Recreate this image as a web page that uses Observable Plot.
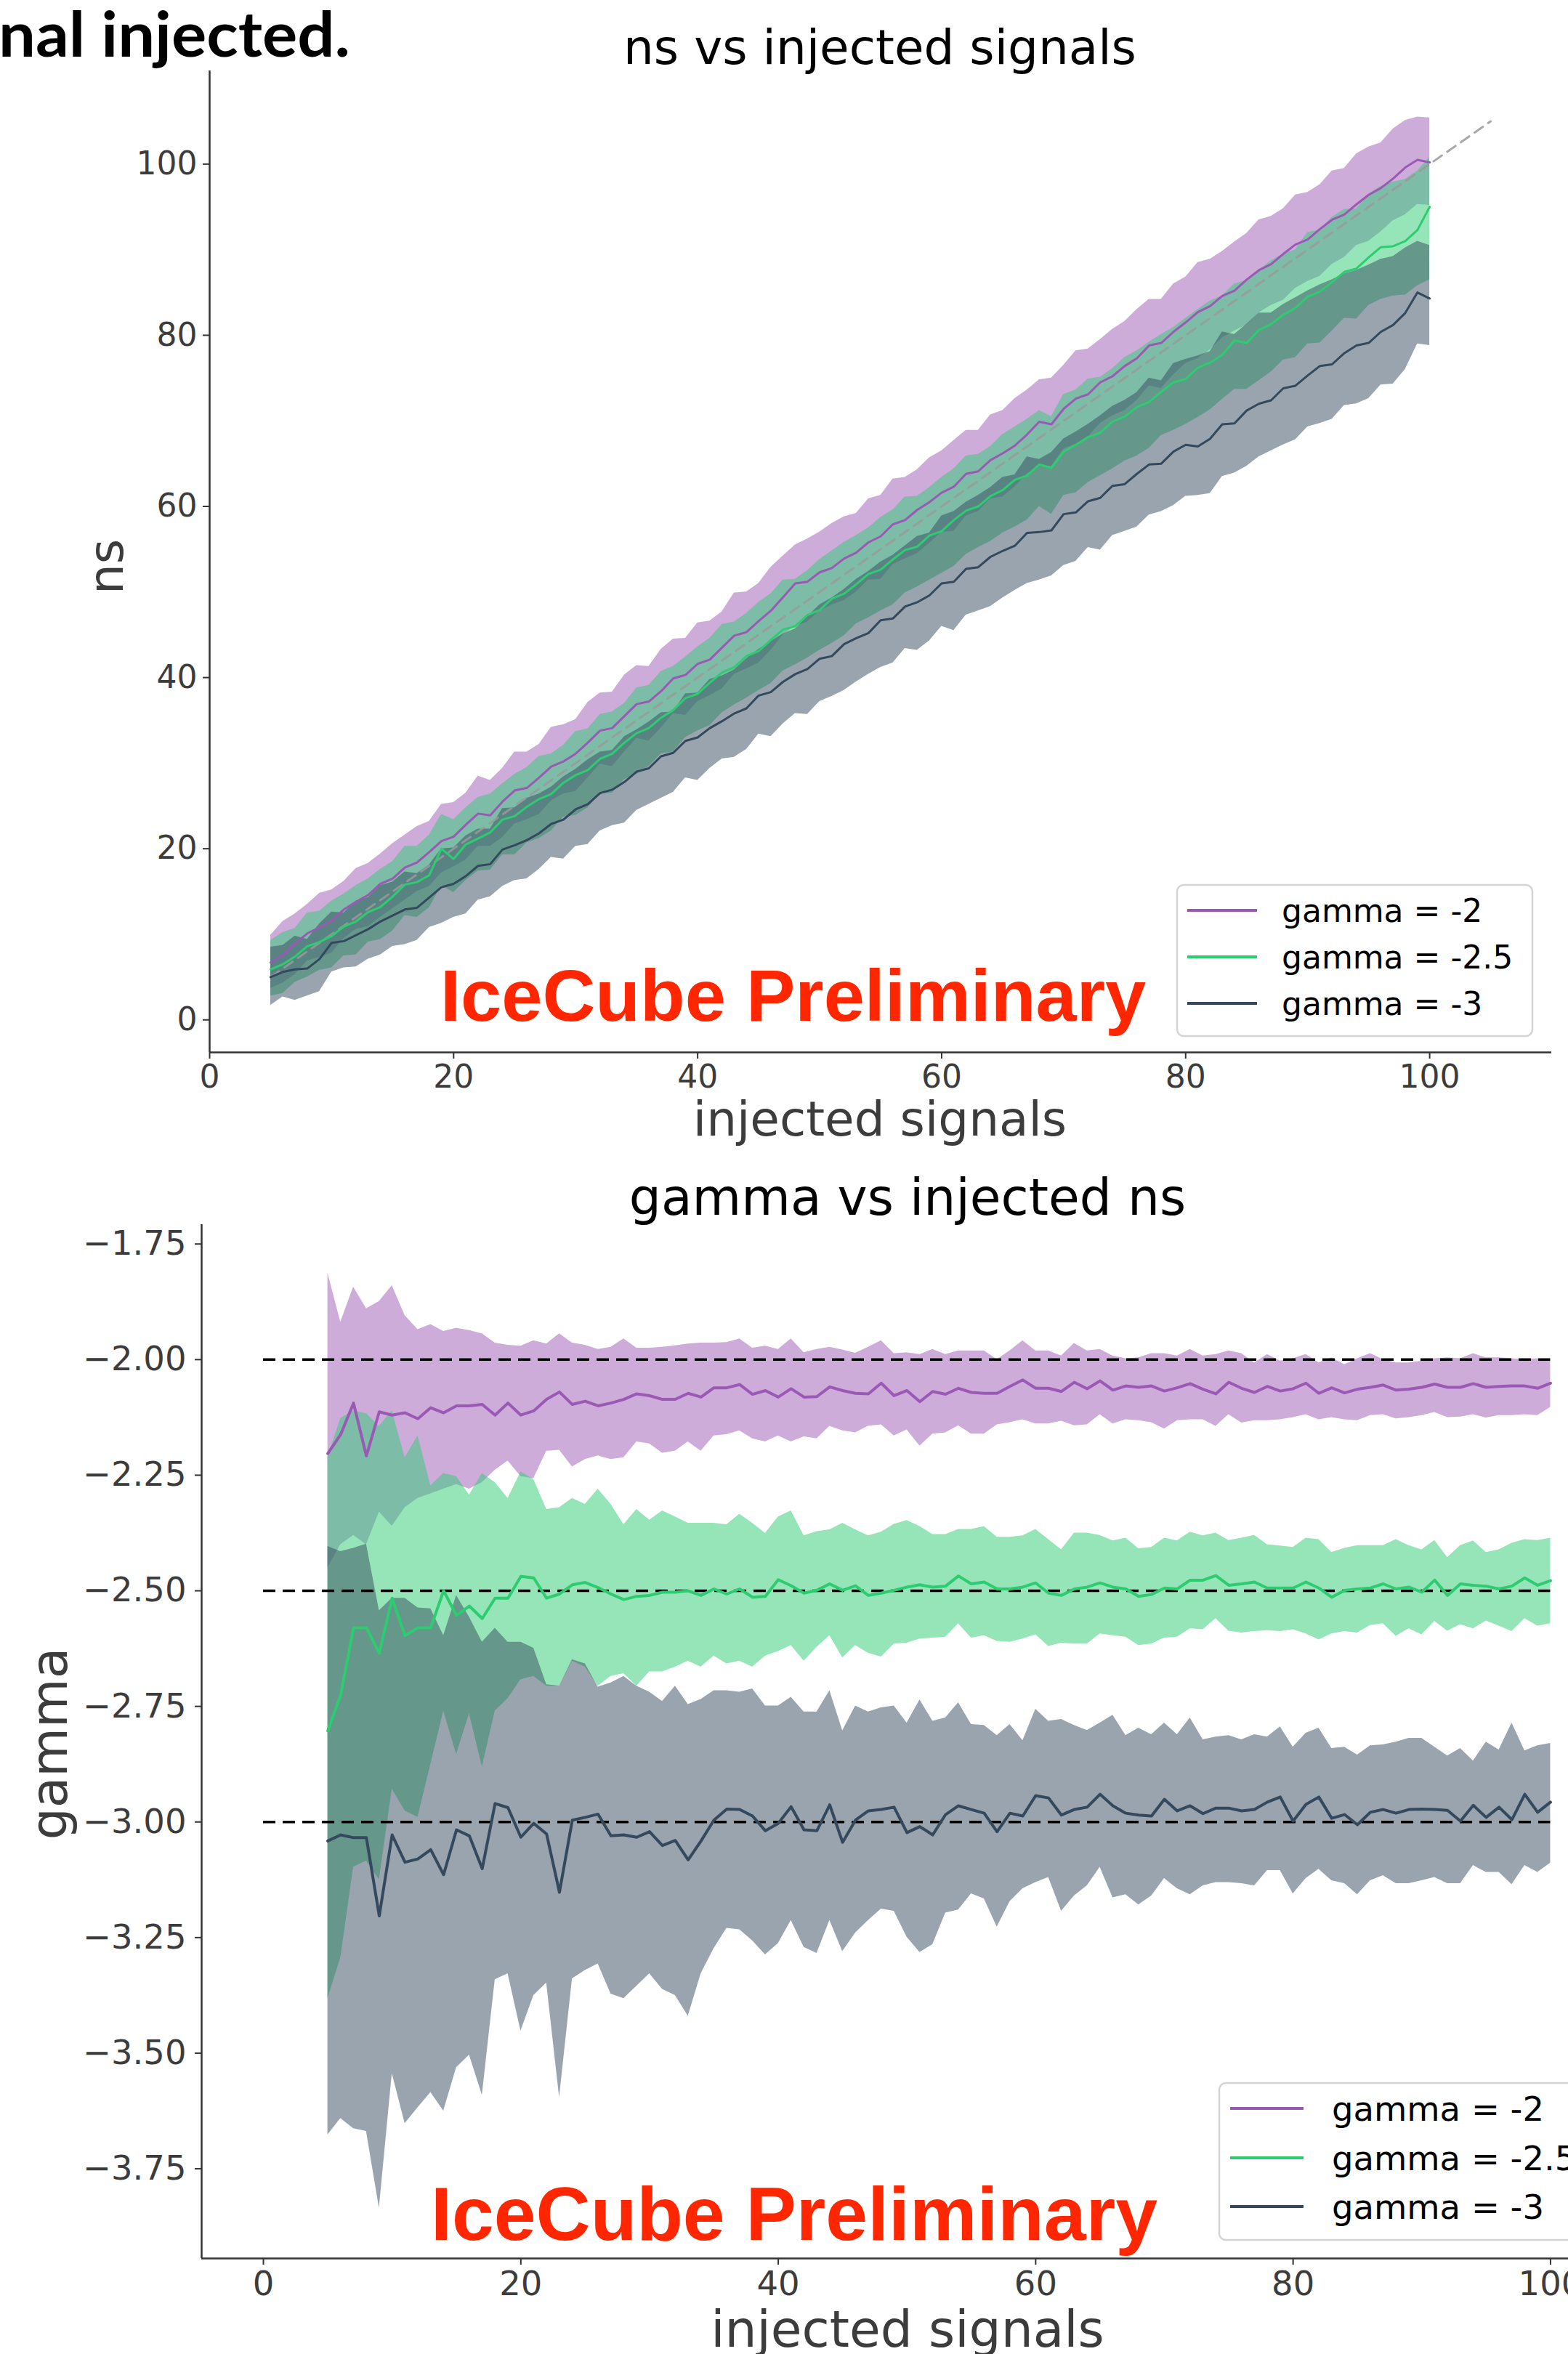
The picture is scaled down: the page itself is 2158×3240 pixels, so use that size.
<!DOCTYPE html>
<html><head><meta charset="utf-8">
<script src="https://cdn.jsdelivr.net/npm/d3@7"></script>
<script src="https://cdn.jsdelivr.net/npm/@observablehq/plot@0.6"></script>
<style>
html,body{margin:0;padding:0;background:#fff;overflow:hidden;}
#page{position:relative;width:2158px;height:3240px;overflow:hidden;background:#fff;}
#page svg{position:absolute;left:0;max-width:none !important;}
</style></head><body><div id="page"></div>
<script>
// ---------- shared categories ----------
const injected = [5,6,7,8,9,10,11,12,13,14,15,16,17,18,19,20,21,22,23,24,25,26,27,28,29,30,31,32,33,34,35,36,37,38,39,40,41,42,43,44,45,46,47,48,49,50,51,52,53,54,55,56,57,58,59,60,61,62,63,64,65,66,67,68,69,70,71,72,73,74,75,76,77,78,79,80,81,82,83,84,85,86,87,88,89,90,91,92,93,94,95,96,97,98,99,100];
const seriesLabels = ["gamma = -2", "gamma = -2.5", "gamma = -3"];
const seriesColors = ["#9b59b6", "#2ecc71", "#34495e"];
const xTicks = [0, 20, 40, 60, 80, 100];
const nsTicks = [0, 20, 40, 60, 80, 100];
const gammaTicks = [-3.75, -3.5, -3.25, -3, -2.75, -2.5, -2.25, -2, -1.75];
const diagSpan = [5, 105];
const gammaTrue = [-2, -2.5, -3];
const trueSpan = [0, 100];

// ---------- top chart: fitted ns (mean, spread below, spread above) ----------
const nsMean_g2 = [6.7,7.6,8.9,10.1,10.8,11.6,12.9,13.8,14.6,15.9,
 16.5,17.8,18.4,19.6,20.9,21.4,22.8,24.1,23.9,25.5,
 26.8,27.1,28.3,29.6,30.2,31.1,32.4,33.8,34.1,35.5,
 36.9,37.2,38.4,39.9,40.3,41.6,42.1,43.5,44.9,45.3,
 46.6,47.8,49.4,51.0,51.2,52.3,52.8,53.9,54.6,55.8,
 56.5,57.9,58.4,59.6,60.5,61.6,62.3,63.8,64.1,65.4,
 66.2,67.1,68.4,69.9,69.6,71.4,72.6,73.1,74.5,75.2,
 76.4,77.3,78.8,79.1,80.4,81.5,82.7,83.4,84.6,85.2,
 86.5,87.6,88.3,89.5,90.6,91.2,92.4,93.5,94.1,95.3,
 96.4,97.2,98.3,99.6,100.5,100.2];
const nsErrLo_g2 = [3.0,3.3,3.6,3.2,3.5,3.8,3.4,3.2,3.7,3.9,
 3.5,3.8,3.4,4.0,3.7,3.5,4.1,3.8,3.6,4.2,
 3.9,3.7,4.3,4.0,3.8,4.4,4.1,3.9,4.5,4.2,
 4.0,4.6,4.3,4.1,4.7,4.4,4.2,4.8,4.5,4.3,
 4.9,4.6,4.4,5.0,4.7,4.5,4.3,4.9,4.6,4.4,
 5.0,4.7,4.5,5.1,4.8,4.6,5.2,4.9,4.7,4.5,
 5.1,4.8,4.6,5.2,4.9,4.7,5.3,5.0,4.8,4.6,
 5.2,4.9,4.7,5.3,5.0,4.8,5.4,5.1,4.9,4.7,
 5.3,5.0,4.8,5.4,5.1,4.9,5.5,5.2,5.0,4.8,
 5.4,5.1,4.9,5.5,5.2,5.0];
const nsErrHi_g2 = [3.2,3.9,3.5,3.4,4.0,3.6,3.3,3.9,3.7,3.5,
 4.1,3.8,4.2,3.6,4.3,4.0,3.7,4.4,4.1,3.9,
 4.5,4.2,3.9,4.6,4.3,4.0,4.7,4.4,4.2,4.8,
 4.5,4.1,4.9,4.6,4.3,4.8,4.5,4.2,5.0,4.7,
 4.4,5.1,4.8,4.5,5.0,4.7,5.2,4.9,4.6,5.1,
 4.8,5.3,5.0,4.7,5.2,4.9,5.4,5.1,4.8,5.3,
 5.0,5.5,5.2,4.9,5.4,5.1,5.6,5.3,5.0,5.5,
 5.2,5.7,5.4,5.1,5.6,5.3,5.8,5.5,5.2,5.7,
 5.4,5.9,5.6,5.3,5.8,5.5,5.2,5.7,5.4,5.9,
 5.6,5.3,5.8,5.5,5.0,5.2];

const nsMean_g25 = [5.9,6.5,7.4,8.6,9.1,9.8,10.9,11.5,12.6,13.2,
 14.4,15.8,16.1,16.9,20.0,18.8,20.5,21.2,21.9,23.4,
 23.8,24.9,25.8,26.4,27.7,28.6,29.2,30.5,31.1,32.4,
 33.5,34.1,35.3,36.2,37.6,38.1,39.4,40.6,41.2,42.5,
 43.1,44.4,45.6,46.0,47.3,47.9,49.2,49.8,50.9,52.1,
 52.6,53.8,54.9,55.3,56.6,57.1,58.4,59.5,60.0,61.2,
 61.9,63.1,63.6,64.9,64.5,66.4,67.2,68.1,68.6,69.9,
 70.5,71.6,72.2,73.4,74.5,74.9,76.2,76.8,77.7,79.4,
 79.1,80.6,81.3,82.4,83.2,84.5,85.1,86.2,87.4,87.8,
 89.1,90.3,90.4,91.0,92.3,95.0];
const nsErrLo_g25 = [3.1,3.4,3.0,3.6,3.3,3.7,3.4,3.9,3.5,3.8,
 4.0,3.6,4.1,3.8,4.3,3.9,4.2,3.8,4.4,4.1,
 4.5,4.2,4.6,4.3,4.0,4.7,4.4,4.1,4.6,4.3,
 4.8,4.5,4.2,4.9,4.6,4.3,5.0,4.7,4.4,4.9,
 4.6,5.1,4.8,4.5,5.0,4.7,5.2,4.9,4.6,5.1,
 4.8,5.3,5.0,4.7,5.2,4.9,5.4,5.1,4.8,5.3,
 5.0,5.5,5.2,4.9,5.4,5.1,5.6,5.3,5.0,5.5,
 5.2,5.7,5.4,5.1,5.6,5.3,5.8,5.5,5.2,5.7,
 5.4,5.9,5.6,5.3,5.8,5.5,6.0,5.7,5.4,5.9,
 5.6,6.1,5.8,6.3,6.5,8.5];
const nsErrHi_g25 = [3.4,3.7,3.3,3.9,3.6,4.1,3.8,4.2,3.9,4.4,
 4.1,4.5,4.2,4.7,4.0,4.6,4.3,4.8,4.5,4.2,
 4.9,4.6,5.0,4.7,4.4,5.1,4.8,5.2,4.9,4.6,
 5.3,5.0,5.4,5.1,4.8,5.5,5.2,5.6,5.3,5.0,
 5.7,5.4,5.8,5.5,5.2,5.9,5.6,6.0,5.7,5.4,
 6.1,5.8,6.2,5.9,5.6,6.3,6.0,6.4,6.1,5.8,
 6.5,6.2,6.6,6.3,6.0,6.7,6.4,6.8,6.5,6.2,
 6.9,6.6,7.0,6.7,6.4,7.1,6.8,7.2,6.9,6.6,
 7.3,7.0,7.4,7.1,6.8,7.5,7.2,7.6,7.3,7.0,
 7.4,7.1,7.5,7.2,6.9,5.8];

const nsMean_g3 = [5.0,5.6,5.9,6.0,7.1,9.0,9.2,9.9,10.6,11.5,
 12.2,12.9,13.1,14.3,15.5,15.9,16.8,18.0,18.2,19.9,
 20.4,21.0,21.8,22.9,23.4,24.6,25.2,26.5,26.9,27.8,
 29.0,29.4,30.8,31.2,32.6,33.0,34.1,34.9,35.8,36.4,
 37.9,38.3,39.5,40.4,41.0,42.2,42.5,43.9,44.6,45.2,
 46.7,46.9,48.3,48.8,49.6,51.0,51.2,52.7,52.9,54.1,
 54.8,55.4,56.9,57.0,57.2,59.1,59.3,60.6,61.0,62.4,
 62.6,63.8,64.9,65.0,66.4,67.2,67.0,67.9,69.6,69.7,
 71.2,72.0,72.4,73.8,74.1,75.3,76.4,76.6,77.9,78.8,
 79.1,80.4,81.2,82.6,85.0,84.3];
const nsErrLo_g3 = [3.3,2.9,3.6,3.2,3.8,3.4,3.1,3.7,3.5,3.9,
 3.6,4.1,3.8,3.5,4.2,3.9,4.4,4.0,3.8,4.3,
 4.1,4.5,4.2,3.9,4.6,4.3,4.7,4.4,4.2,4.8,
 4.5,4.2,4.9,4.6,4.3,5.0,4.7,4.4,5.1,4.8,
 4.5,5.2,4.9,4.6,5.3,5.0,4.7,5.4,5.1,4.8,
 5.5,5.2,4.9,5.6,5.3,5.0,5.7,5.4,5.1,5.8,
 5.5,5.2,5.9,5.6,5.3,6.0,5.7,5.4,6.1,5.8,
 5.5,6.2,5.9,5.6,6.3,6.0,5.7,6.4,6.1,5.8,
 6.5,6.2,5.9,6.6,6.3,6.0,6.7,6.4,6.1,6.8,
 6.5,6.2,6.9,6.6,6.0,5.5];
const nsErrHi_g3 = [3.5,3.1,3.9,3.4,4.1,3.6,3.3,4.0,3.7,4.2,
 3.9,4.4,4.0,3.8,4.5,4.2,4.7,4.3,4.1,4.8,
 4.4,4.9,4.6,4.3,5.0,4.7,5.2,4.8,4.6,5.3,
 4.9,5.4,5.1,4.8,5.5,5.2,5.7,5.3,5.1,5.8,
 5.4,5.9,5.6,5.3,6.1,6.3,6.8,6.4,6.9,7.2,
 6.8,7.4,7.1,7.7,7.3,7.9,8.2,7.8,8.4,8.1,
 8.6,8.3,8.9,8.5,9.1,8.8,9.4,9.0,9.6,9.3,
 9.8,9.5,10.1,9.7,10.3,10.0,10.6,10.2,10.8,10.4,
 10.1,10.6,10.2,9.8,10.3,9.9,9.5,9.9,9.3,8.8,
 9.1,8.5,8.0,7.6,6.0,6.2];

// ---------- bottom chart: fitted gamma (mean, band low, band high) ----------
const gMean_g2 = [-2.203,-2.162,-2.094,-2.208,-2.113,-2.120,-2.115,-2.128,-2.104,-2.115,-2.100,-2.100,-2.097,-2.120,-2.094,-2.120,-2.111,-2.086,-2.070,-2.097,-2.090,-2.100,-2.094,-2.086,-2.074,-2.078,-2.086,-2.086,-2.073,-2.081,-2.061,-2.061,-2.054,-2.075,-2.067,-2.081,-2.063,-2.081,-2.080,-2.059,-2.067,-2.073,-2.074,
 -2.051,-2.078,-2.067,-2.091,-2.069,-2.075,-2.062,-2.071,-2.073,-2.073,-2.058,-2.044,-2.062,-2.062,-2.069,-2.049,-2.063,-2.046,-2.066,-2.057,-2.060,-2.057,-2.068,-2.061,-2.052,-2.064,-2.074,-2.049,-2.062,-2.071,-2.058,-2.068,-2.063,-2.051,-2.073,-2.061,-2.072,-2.064,-2.060,-2.055,-2.066,-2.064,-2.060,-2.053,-2.060,-2.060,-2.052,-2.060,-2.058,-2.057,-2.057,-2.062,-2.051];
const gLo_g2 = [-2.45,-2.40,-2.38,-2.40,-2.33,-2.36,-2.32,-2.30,-2.29,-2.28,-2.27,-2.28,-2.266,-2.239,-2.219,-2.253,-2.257,-2.198,-2.196,-2.232,-2.216,-2.208,-2.216,-2.212,-2.178,-2.182,-2.202,-2.198,-2.178,-2.198,-2.165,-2.162,-2.154,-2.171,-2.178,-2.165,-2.178,-2.167,-2.171,-2.144,-2.154,-2.158,-2.144,
 -2.141,-2.165,-2.152,-2.187,-2.161,-2.158,-2.143,-2.161,-2.161,-2.141,-2.136,-2.130,-2.139,-2.139,-2.133,-2.143,-2.141,-2.119,-2.139,-2.130,-2.132,-2.136,-2.150,-2.132,-2.130,-2.130,-2.144,-2.119,-2.137,-2.132,-2.132,-2.130,-2.125,-2.119,-2.130,-2.125,-2.130,-2.132,-2.121,-2.119,-2.128,-2.125,-2.121,-2.114,-2.125,-2.124,-2.119,-2.126,-2.121,-2.121,-2.119,-2.121,-2.103];
const gHi_g2 = [-1.813,-1.919,-1.843,-1.890,-1.874,-1.840,-1.905,-1.935,-1.924,-1.939,-1.932,-1.937,-1.944,-1.964,-1.969,-1.971,-1.959,-1.966,-1.944,-1.964,-1.969,-1.978,-1.973,-1.955,-1.975,-1.975,-1.973,-1.970,-1.966,-1.964,-1.964,-1.963,-1.955,-1.975,-1.971,-1.978,-1.955,-1.985,-1.978,-1.973,-1.979,-1.986,-1.973,
 -1.959,-1.987,-1.985,-1.989,-1.978,-1.989,-1.981,-1.981,-1.981,-2.000,-1.981,-1.959,-1.981,-1.981,-1.992,-1.965,-1.981,-1.978,-1.992,-1.998,-1.996,-1.987,-1.987,-1.992,-1.978,-1.992,-1.989,-1.981,-1.987,-2.007,-1.989,-2.003,-1.998,-1.989,-2.007,-1.996,-2.011,-1.998,-1.987,-2.000,-2.007,-2.007,-2.003,-1.998,-1.996,-1.998,-1.987,-1.996,-1.996,-1.998,-2.000,-1.998,-2.003];

const gMean_g25 = [-2.803,-2.726,-2.580,-2.580,-2.635,-2.516,-2.597,-2.580,-2.580,-2.500,-2.553,-2.533,-2.560,-2.516,-2.516,-2.469,-2.472,-2.516,-2.507,-2.487,-2.482,-2.493,-2.507,-2.519,-2.512,-2.510,-2.503,-2.503,-2.500,-2.510,-2.496,-2.507,-2.496,-2.514,-2.512,-2.476,-2.489,-2.505,-2.499,-2.485,-2.499,-2.489,-2.510,
 -2.505,-2.499,-2.492,-2.487,-2.492,-2.490,-2.468,-2.485,-2.481,-2.496,-2.496,-2.492,-2.483,-2.505,-2.510,-2.496,-2.492,-2.483,-2.492,-2.496,-2.512,-2.508,-2.494,-2.496,-2.477,-2.477,-2.467,-2.488,-2.485,-2.481,-2.494,-2.494,-2.494,-2.481,-2.494,-2.514,-2.499,-2.496,-2.494,-2.485,-2.496,-2.492,-2.503,-2.477,-2.510,-2.485,-2.488,-2.490,-2.496,-2.490,-2.472,-2.488,-2.478];
const gLo_g25 = [-3.382,-3.294,-3.098,-3.084,-3.125,-2.929,-2.976,-2.990,-2.875,-2.760,-2.854,-2.766,-2.881,-2.760,-2.733,-2.692,-2.685,-2.706,-2.706,-2.652,-2.665,-2.706,-2.685,-2.679,-2.706,-2.675,-2.675,-2.665,-2.652,-2.665,-2.641,-2.658,-2.652,-2.665,-2.641,-2.631,-2.618,-2.652,-2.622,-2.597,-2.645,-2.618,-2.635,
 -2.643,-2.615,-2.613,-2.604,-2.602,-2.600,-2.571,-2.602,-2.597,-2.609,-2.611,-2.604,-2.595,-2.620,-2.613,-2.615,-2.615,-2.593,-2.597,-2.600,-2.618,-2.615,-2.602,-2.600,-2.582,-2.584,-2.560,-2.587,-2.591,-2.588,-2.586,-2.588,-2.584,-2.593,-2.606,-2.593,-2.588,-2.591,-2.575,-2.571,-2.598,-2.582,-2.595,-2.566,-2.587,-2.573,-2.582,-2.565,-2.576,-2.588,-2.560,-2.576,-2.571];
const gHi_g25 = [-2.212,-2.127,-2.111,-2.117,-2.144,-2.111,-2.212,-2.165,-2.273,-2.246,-2.253,-2.293,-2.246,-2.266,-2.300,-2.243,-2.259,-2.324,-2.320,-2.300,-2.313,-2.280,-2.313,-2.357,-2.324,-2.347,-2.327,-2.340,-2.354,-2.354,-2.354,-2.357,-2.334,-2.354,-2.376,-2.340,-2.327,-2.381,-2.372,-2.368,-2.354,-2.368,-2.381,
 -2.373,-2.356,-2.348,-2.361,-2.378,-2.378,-2.367,-2.367,-2.361,-2.384,-2.384,-2.381,-2.367,-2.389,-2.411,-2.375,-2.375,-2.380,-2.392,-2.386,-2.409,-2.406,-2.386,-2.392,-2.373,-2.381,-2.375,-2.391,-2.386,-2.380,-2.400,-2.403,-2.406,-2.386,-2.389,-2.417,-2.408,-2.402,-2.402,-2.402,-2.389,-2.402,-2.411,-2.391,-2.428,-2.402,-2.392,-2.417,-2.411,-2.397,-2.389,-2.391,-2.386];

const gMean_g3 = [-3.041,-3.028,-3.034,-3.034,-3.203,-3.028,-3.087,-3.080,-3.060,-3.114,-3.017,-3.030,-3.101,-2.960,-2.969,-3.033,-3.003,-3.026,-3.152,-2.996,-2.990,-2.983,-3.030,-3.028,-3.033,-3.021,-3.051,-3.040,-3.082,-3.041,-2.996,-2.972,-2.973,-2.987,-3.019,-3.003,-2.967,-3.017,-3.019,-2.963,-3.044,-2.996,-2.976,
 -2.973,-2.968,-3.023,-3.010,-3.028,-2.984,-2.965,-2.973,-2.981,-3.021,-2.981,-2.987,-2.943,-2.948,-2.985,-2.973,-2.968,-2.940,-2.965,-2.981,-2.985,-2.987,-2.951,-2.976,-2.965,-2.982,-2.970,-2.970,-2.976,-2.973,-2.957,-2.946,-2.998,-2.962,-2.946,-2.992,-2.984,-3.006,-2.979,-2.973,-2.981,-2.973,-2.972,-2.973,-2.975,-2.998,-2.964,-2.990,-2.968,-2.995,-2.940,-2.979,-2.957];
const gLo_g3 = [-3.677,-3.641,-3.663,-3.669,-3.835,-3.544,-3.652,-3.618,-3.585,-3.625,-3.531,-3.504,-3.591,-3.341,-3.328,-3.452,-3.375,-3.348,-3.596,-3.339,-3.321,-3.307,-3.372,-3.382,-3.355,-3.328,-3.362,-3.375,-3.420,-3.328,-3.274,-3.230,-3.233,-3.257,-3.287,-3.263,-3.213,-3.271,-3.284,-3.213,-3.280,-3.240,-3.213,
 -3.188,-3.193,-3.249,-3.282,-3.265,-3.197,-3.190,-3.155,-3.166,-3.227,-3.172,-3.144,-3.131,-3.120,-3.193,-3.160,-3.138,-3.098,-3.164,-3.157,-3.179,-3.160,-3.122,-3.144,-3.157,-3.138,-3.131,-3.131,-3.133,-3.138,-3.105,-3.105,-3.155,-3.122,-3.102,-3.127,-3.133,-3.157,-3.127,-3.116,-3.133,-3.133,-3.127,-3.120,-3.133,-3.133,-3.094,-3.109,-3.109,-3.135,-3.094,-3.109,-3.089];
const gHi_g3 = [-2.404,-2.415,-2.408,-2.399,-2.543,-2.516,-2.516,-2.537,-2.539,-2.597,-2.510,-2.557,-2.611,-2.581,-2.611,-2.611,-2.624,-2.703,-2.706,-2.649,-2.658,-2.708,-2.699,-2.685,-2.706,-2.719,-2.739,-2.706,-2.746,-2.735,-2.716,-2.716,-2.719,-2.712,-2.749,-2.749,-2.730,-2.762,-2.762,-2.716,-2.803,-2.749,-2.762,
 -2.753,-2.749,-2.786,-2.736,-2.782,-2.775,-2.742,-2.789,-2.791,-2.813,-2.789,-2.824,-2.756,-2.782,-2.778,-2.791,-2.802,-2.786,-2.769,-2.813,-2.797,-2.811,-2.786,-2.811,-2.775,-2.822,-2.816,-2.813,-2.822,-2.811,-2.816,-2.794,-2.838,-2.808,-2.797,-2.841,-2.838,-2.855,-2.835,-2.833,-2.827,-2.819,-2.819,-2.838,-2.857,-2.841,-2.868,-2.827,-2.844,-2.786,-2.846,-2.835,-2.830];

// ---------- build tables ----------
[nsMean_g2,nsErrLo_g2,nsErrHi_g2,nsMean_g25,nsErrLo_g25,nsErrHi_g25,nsMean_g3,nsErrLo_g3,nsErrHi_g3,
 gMean_g2,gLo_g2,gHi_g2,gMean_g25,gLo_g25,gHi_g25,gMean_g3,gLo_g3,gHi_g3].forEach((a,i)=>{
  if (a.length !== injected.length) console.error("array " + i + " has length " + a.length);
});
const topTable = (mean, eLo, eHi) => injected.map((x, i) => ({x, mean: mean[i], lo: mean[i] - eLo[i], hi: mean[i] + eHi[i]}));
const botTable = (mean, lo, hi) => injected.map((x, i) => ({x, mean: mean[i], lo: lo[i], hi: hi[i]}));
const topSeries = [topTable(nsMean_g2, nsErrLo_g2, nsErrHi_g2), topTable(nsMean_g25, nsErrLo_g25, nsErrHi_g25), topTable(nsMean_g3, nsErrLo_g3, nsErrHi_g3)];
const botSeries = [botTable(gMean_g2, gLo_g2, gHi_g2), botTable(gMean_g25, gLo_g25, gHi_g25), botTable(gMean_g3, gLo_g3, gHi_g3)];

const FONT = "'DejaVu Sans', sans-serif";
const pageDiv = document.getElementById("page");

function addText(svg, o) {
  const t = d3.select(svg).append("text")
    .attr("x", o.x).attr("y", o.y)
    .attr("text-anchor", o.anchor || "start")
    .attr("font-family", o.family || FONT)
    .attr("font-size", o.size)
    .attr("font-weight", o.weight || "normal")
    .attr("fill", o.fill || "#000")
    .text(o.text);
  if (o.rotate) t.attr("transform", `rotate(${o.rotate},${o.x},${o.y})`);
  if (o.length) t.attr("textLength", o.length).attr("lengthAdjust", "spacingAndGlyphs");
  return t;
}
function addLegend(svg, o) {
  const g = d3.select(svg).append("g").attr("text-anchor", "start");
  g.append("rect").attr("x", o.x).attr("y", o.y).attr("width", o.w).attr("height", o.h)
    .attr("rx", 9).attr("fill", "rgba(255,255,255,0.85)").attr("stroke", "#d4d4d4").attr("stroke-width", 2.5);
  seriesLabels.forEach((lab, k) => {
    const cy = o.rowY[k];
    g.append("line").attr("x1", o.lx1).attr("x2", o.lx2).attr("y1", cy).attr("y2", cy)
      .attr("stroke", seriesColors[k]).attr("stroke-width", o.lw);
    g.append("text").attr("x", o.tx).attr("y", cy).attr("dy", "0.36em").attr("text-anchor", "start")
      .attr("font-family", FONT).attr("font-size", o.size).attr("fill", "#000").text(lab);
  });
}

// ---------- top chart ----------
const topX = [0, 110], topY = [-3.8, 110.9];
const topSvg = Plot.plot({
  width: 2158, height: 1600,
  marginLeft: 288, marginRight: 23, marginTop: 97, marginBottom: 152,
  style: {fontFamily: FONT, color: "#333", background: "transparent", maxWidth: "none", overflow: "visible"},
  x: {domain: topX, label: null},
  y: {domain: topY, label: null},
  marks: [
    ...topSeries.map((s, k) => Plot.areaY(s, {x: "x", y1: "lo", y2: "hi", fill: seriesColors[k], fillOpacity: 0.5})),
    Plot.line(diagSpan.map(v => ({x: v, y: v})), {x: "x", y: "y", stroke: "#9a9a9a", strokeOpacity: 0.85, strokeWidth: 3, strokeDasharray: "14,9"}),
    ...topSeries.map((s, k) => Plot.lineY(s, {x: "x", y: "mean", stroke: seriesColors[k], strokeWidth: 3})),
    Plot.axisX({ticks: xTicks, tickSize: 9, tickPadding: 8, fontSize: 44, label: null, fill: "#3c3c3c", stroke: "#333", strokeWidth: 2}),
    Plot.axisY({ticks: nsTicks, tickSize: 9, tickPadding: 8, fontSize: 44, label: null, fill: "#3c3c3c", stroke: "#333", strokeWidth: 2}),
    Plot.ruleX([topX[0]], {stroke: "#333", strokeWidth: 2.5}),
    Plot.ruleY([topY[0]], {stroke: "#333", strokeWidth: 2.5})
  ]
});
topSvg.style.top = "0px";
pageDiv.appendChild(topSvg);
addText(topSvg, {x: -2, y: 78, text: "nal injected.", size: 86, weight: 700, family: "Lato, 'Open Sans', sans-serif", fill: "#000", length: 484});
addText(topSvg, {x: 1211, y: 88, text: "ns vs injected signals", size: 66, anchor: "middle", fill: "#000"});
addText(topSvg, {x: 1211, y: 1563, text: "injected signals", size: 66, anchor: "middle", fill: "#3c3c3c"});
addText(topSvg, {x: 169, y: 780, text: "ns", size: 66, anchor: "middle", fill: "#3c3c3c", rotate: -90});
addText(topSvg, {x: 606, y: 1405, text: "IceCube Preliminary", size: 101, weight: 700, family: "'Liberation Sans', Arial, sans-serif", fill: "#ff2600"});
addLegend(topSvg, {x: 1620, y: 1218, w: 489, h: 208, lx1: 1634, lx2: 1730, rowY: [1253, 1317, 1381], tx: 1764, size: 44, lw: 4});

// ---------- bottom chart ----------
const botX = [-4.8, 105], botY = [-3.944, -1.708];
const botSvg = Plot.plot({
  width: 2240, height: 1640,
  marginLeft: 277, marginRight: 18, marginTop: 85, marginBottom: 132,
  style: {fontFamily: FONT, color: "#333", background: "transparent", maxWidth: "none", overflow: "visible"},
  x: {domain: botX, label: null},
  y: {domain: botY, label: null},
  marks: [
    ...botSeries.map((s, k) => Plot.areaY(s, {x: "x", y1: "lo", y2: "hi", fill: seriesColors[k], fillOpacity: 0.5})),
    Plot.ruleY(gammaTrue, {x1: trueSpan[0], x2: trueSpan[1], stroke: "#000", strokeWidth: 3.5, strokeDasharray: "17,10"}),
    ...botSeries.map((s, k) => Plot.lineY(s, {x: "x", y: "mean", stroke: seriesColors[k], strokeWidth: 4})),
    Plot.axisX({ticks: xTicks, tickSize: 9, tickPadding: 8, fontSize: 46.5, label: null, fill: "#3c3c3c", stroke: "#333", strokeWidth: 2}),
    Plot.axisY({ticks: gammaTicks, tickFormat: ".2f", tickSize: 9, tickPadding: 12, fontSize: 46.5, label: null, fill: "#3c3c3c", stroke: "#333", strokeWidth: 2}),
    Plot.ruleX([botX[0]], {stroke: "#333", strokeWidth: 2.5}),
    Plot.ruleY([botY[0]], {stroke: "#333", strokeWidth: 2.5})
  ]
});
botSvg.style.top = "1600px";
pageDiv.appendChild(botSvg);
addText(botSvg, {x: 1249, y: 72, text: "gamma vs injected ns", size: 69.5, anchor: "middle", fill: "#000"});
addText(botSvg, {x: 1249, y: 1630, text: "injected signals", size: 69.5, anchor: "middle", fill: "#3c3c3c"});
addText(botSvg, {x: 92, y: 800, text: "gamma", size: 69.5, anchor: "middle", fill: "#3c3c3c", rotate: -90});
addText(botSvg, {x: 593, y: 1483, text: "IceCube Preliminary", size: 104, weight: 700, family: "'Liberation Sans', Arial, sans-serif", fill: "#ff2600"});
addLegend(botSvg, {x: 1678, y: 1267, w: 516, h: 216, lx1: 1693, lx2: 1794, rowY: [1302, 1370, 1437], tx: 1833, size: 46.5, lw: 4});
</script></body></html>
